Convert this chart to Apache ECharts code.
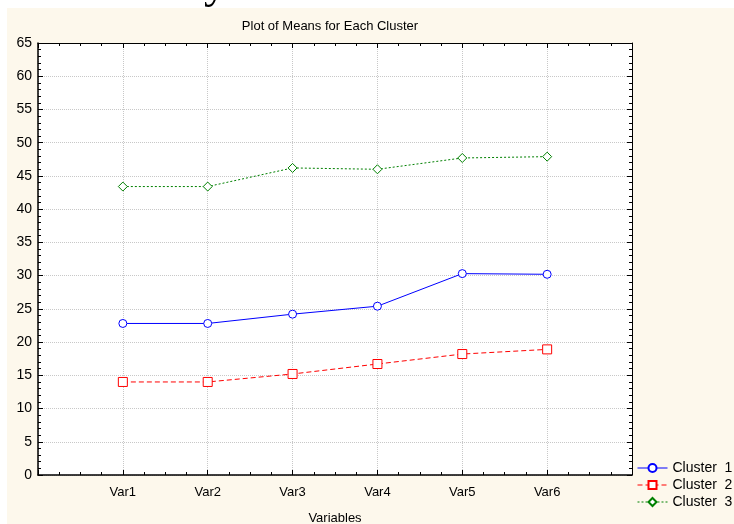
<!DOCTYPE html>
<html>
<head>
<meta charset="utf-8">
<script src="https://cdn.jsdelivr.net/npm/echarts@6/dist/echarts.min.js"></script>
<style>
  html, body { margin: 0; padding: 0; background: #fff; }
  #chart { width: 734px; height: 524px; }
</style>
</head>
<body>
<div id="chart"></div>
<script>
// x positions 1..6, the two ends are empty padding
const categories = ['Var1', 'Var2', 'Var3', 'Var4', 'Var5', 'Var6'];
const cluster1 = [22.8, 22.8, 24.2, 25.4, 30.3, 30.2];
const cluster2 = [14.0, 14.0, 15.2, 16.7, 18.2, 18.9];
const cluster3 = [43.4, 43.4, 46.2, 46.0, 47.7, 47.9];
const seriesNames = ['Cluster  1', 'Cluster  2', 'Cluster  3'];

const font = 'Liberation Sans, Arial, sans-serif';
const toPoints = arr => arr.map((v, i) => [i + 1, v]);

const chart = echarts.init(document.getElementById('chart'));

// ticks point into the plot on all four sides
const tick = { show: true, inside: true, length: 5, lineStyle: { color: '#000' } };
const minorX = { show: true, splitNumber: 4, length: 3, lineStyle: { color: '#000' } };
const minorY = { show: true, splitNumber: 5, length: 3, lineStyle: { color: '#000' } };

chart.setOption({
  backgroundColor: '#fff',
  animation: false,
  graphic: [
    { type: 'rect', z: -10, shape: { x: 7, y: 8, width: 727, height: 516 }, style: { fill: '#fdf8ec' } },
    { type: 'text', left: 204, top: -38, style: { text: 'y', font: '46px "Liberation Serif", serif', fill: '#000' } }
  ],
  title: {
    text: 'Plot of Means for Each Cluster',
    left: 325, top: 15, textAlign: 'center',
    textStyle: { fontFamily: font, fontSize: 13, fontWeight: 'normal', color: '#000' }
  },
  legend: {
    orient: 'vertical', left: 632, top: 456, itemGap: 3,
    itemWidth: 30, itemHeight: 10,
    lineStyle: { width: 1 },
    textStyle: { fontFamily: font, fontSize: 14, color: '#000' },
    data: seriesNames
  },
  grid: {
    left: 38, right: 102, top: 43, bottom: 49,
    outerBoundsMode: 'none', containLabel: false,
    show: true, backgroundColor: '#fff', borderWidth: 0
  },
  xAxis: [{
    type: 'value', min: 0, max: 7, interval: 1,
    name: 'Variables', nameLocation: 'middle', nameGap: 37,
    nameTextStyle: { fontFamily: font, fontSize: 13, color: '#000' },
    axisLine: { show: true, onZero: false, lineStyle: { color: '#000', width: 1.5 } },
    axisTick: tick, minorTick: minorX,
    axisLabel: {
      fontFamily: font, fontSize: 13, color: '#000', margin: 11,
      formatter: v => categories[v - 1] || ''
    },
    splitLine: { show: true, lineStyle: { color: '#c8c8c8', type: 'dotted' } }
  }, {
    type: 'value', min: 0, max: 7, interval: 1, position: 'top',
    axisLine: { show: true, onZero: false, lineStyle: { color: '#000', width: 1 } },
    axisTick: tick, minorTick: minorX,
    axisLabel: { show: false }, splitLine: { show: false }
  }],
  yAxis: [{
    type: 'value', min: 0, max: 65, interval: 5,
    axisLine: { show: true, onZero: false, lineStyle: { color: '#000', width: 1.5 } },
    axisTick: tick, minorTick: minorY,
    axisLabel: { fontFamily: font, fontSize: 14, color: '#000', margin: 6 },
    splitLine: { show: true, lineStyle: { color: '#c8c8c8', type: 'dotted' } }
  }, {
    type: 'value', min: 0, max: 65, interval: 5, position: 'right',
    axisLine: { show: true, onZero: false, lineStyle: { color: '#000', width: 1 } },
    axisTick: tick, minorTick: minorY,
    axisLabel: { show: false }, splitLine: { show: false }
  }],
  series: [
    {
      name: seriesNames[0], type: 'line', data: toPoints(cluster1),
      symbol: 'circle', symbolSize: 8,
      lineStyle: { color: '#0000ff', width: 1 },
      itemStyle: { color: '#fff', borderColor: '#0000ff', borderWidth: 1 }
    },
    {
      name: seriesNames[1], type: 'line', data: toPoints(cluster2),
      symbol: 'rect', symbolSize: 9,
      lineStyle: { color: '#ff0000', width: 1, type: [5, 3] },
      itemStyle: { color: '#fff', borderColor: '#ff0000', borderWidth: 1 }
    },
    {
      name: seriesNames[2], type: 'line', data: toPoints(cluster3),
      symbol: 'diamond', symbolSize: 9,
      lineStyle: { color: '#008000', width: 1, type: [2, 2] },
      itemStyle: { color: '#fff', borderColor: '#008000', borderWidth: 1 }
    }
  ]
});
</script>
</body>
</html>
